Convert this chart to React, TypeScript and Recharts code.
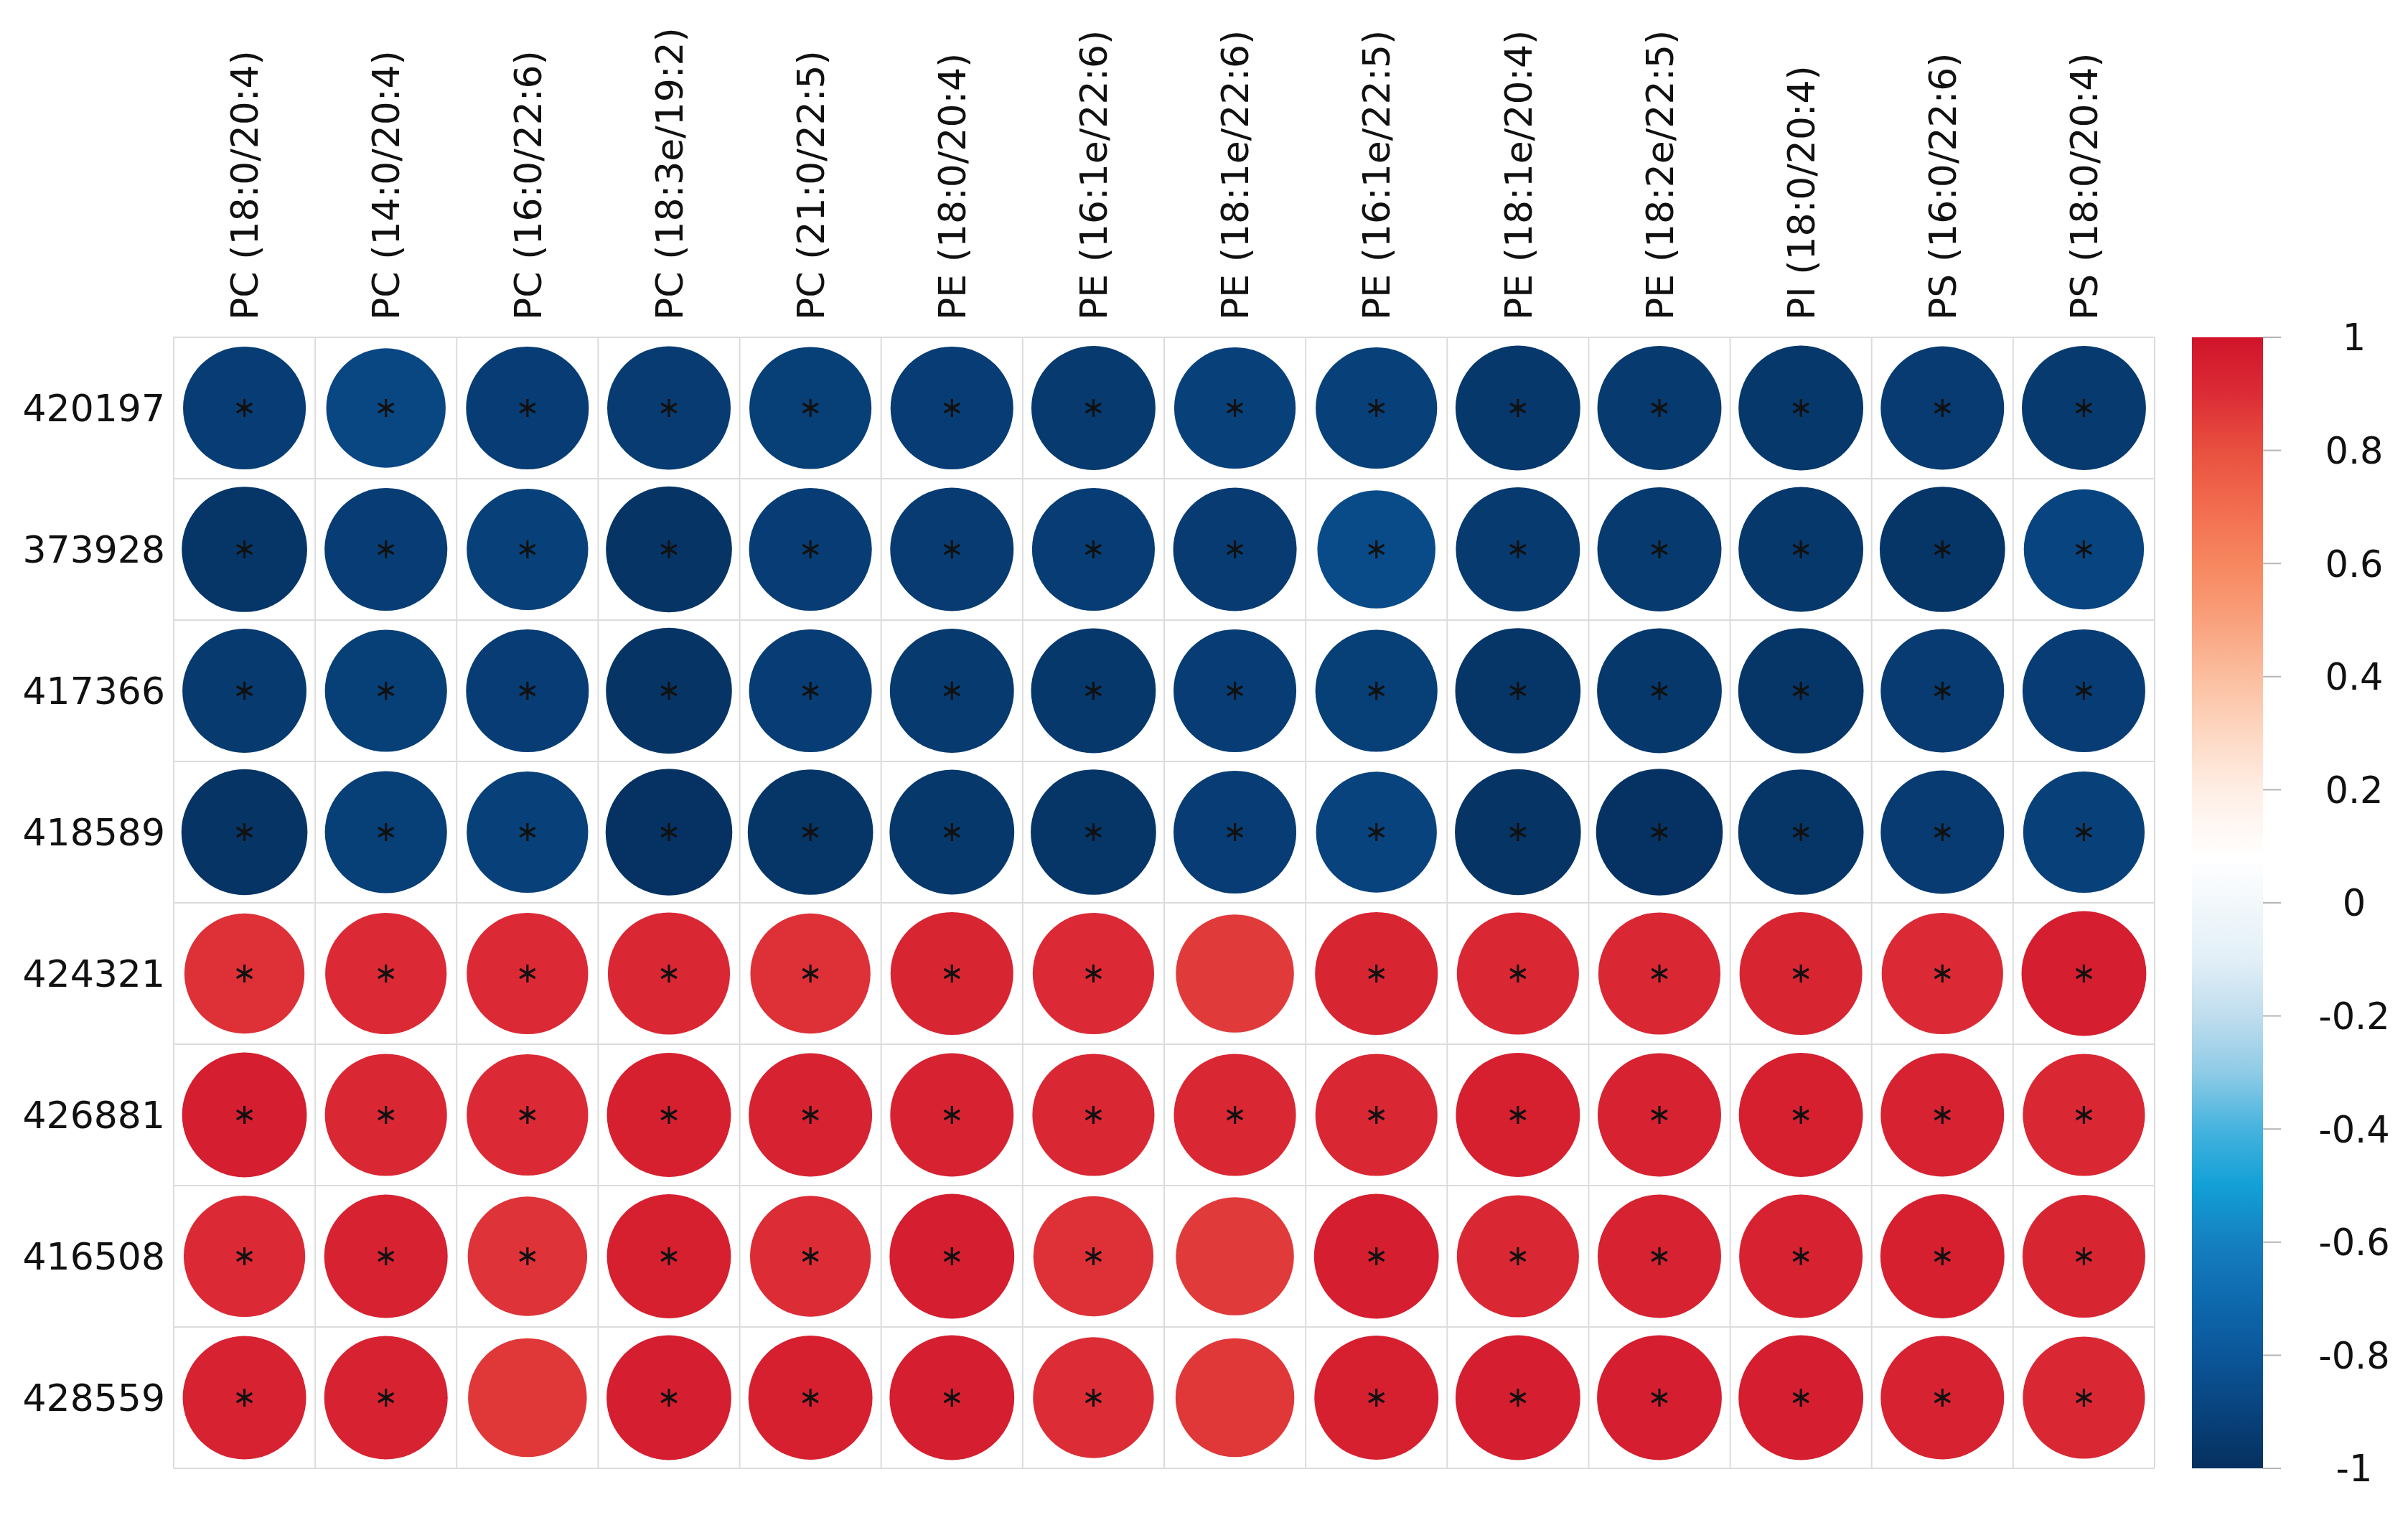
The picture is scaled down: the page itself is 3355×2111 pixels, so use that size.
import React from "react";
import { ScatterChart, Scatter, XAxis, YAxis, ZAxis, ReferenceLine } from "recharts";

if (typeof document !== "undefined") {
  document.body.style.margin = "0";
}

const columns = [
  "PC (18:0/20:4)",
  "PC (14:0/20:4)",
  "PC (16:0/22:6)",
  "PC (18:3e/19:2)",
  "PC (21:0/22:5)",
  "PE (18:0/20:4)",
  "PE (16:1e/22:6)",
  "PE (18:1e/22:6)",
  "PE (16:1e/22:5)",
  "PE (18:1e/20:4)",
  "PE (18:2e/22:5)",
  "PI (18:0/20:4)",
  "PS (16:0/22:6)",
  "PS (18:0/20:4)",
];

const rows = ["420197", "373928", "417366", "418589", "424321", "426881", "416508", "428559"];

const v420197 = [-0.93, -0.88, -0.93, -0.94, -0.92, -0.93, -0.95, -0.91, -0.91, -0.96, -0.95, -0.96, -0.94, -0.95];
const v373928 = [-0.97, -0.93, -0.91, -0.98, -0.93, -0.94, -0.93, -0.94, -0.86, -0.95, -0.95, -0.96, -0.97, -0.89];
const v417366 = [-0.95, -0.92, -0.93, -0.98, -0.93, -0.95, -0.96, -0.93, -0.92, -0.97, -0.96, -0.97, -0.94, -0.93];
const v418589 = [-0.98, -0.92, -0.91, -0.99, -0.97, -0.96, -0.97, -0.93, -0.9, -0.98, -0.99, -0.97, -0.94, -0.91];
const v424321 = [0.89, 0.91, 0.91, 0.92, 0.89, 0.93, 0.91, 0.86, 0.93, 0.92, 0.92, 0.93, 0.91, 0.96];
const v426881 = [0.96, 0.92, 0.91, 0.95, 0.94, 0.94, 0.92, 0.92, 0.92, 0.95, 0.94, 0.95, 0.94, 0.92];
const v416508 = [0.91, 0.94, 0.88, 0.95, 0.9, 0.96, 0.89, 0.86, 0.96, 0.92, 0.94, 0.94, 0.95, 0.93];
const v428559 = [0.94, 0.94, 0.87, 0.96, 0.95, 0.96, 0.9, 0.87, 0.95, 0.96, 0.96, 0.96, 0.94, 0.92];

const values = [v420197, v373928, v417366, v418589, v424321, v426881, v416508, v428559];

const notSignificant: [string, string][] = [
  ["424321", "PE (18:1e/22:6)"],
  ["416508", "PE (18:1e/22:6)"],
  ["428559", "PC (16:0/22:6)"],
  ["428559", "PE (18:1e/22:6)"],
];

const colorbarTicks = [-1, -0.8, -0.6, -0.4, -0.2, 0, 0.2, 0.4, 0.6, 0.8, 1];

const palette: [number, string][] = [
  [-1.0, "#05305f"],
  [-0.9, "#08437d"],
  [-0.8, "#0b5699"],
  [-0.7, "#0e6aae"],
  [-0.6, "#1580c0"],
  [-0.5, "#12a0d6"],
  [-0.4, "#45b3de"],
  [-0.3, "#8fcbe6"],
  [-0.2, "#bfddee"],
  [-0.1, "#e2eff7"],
  [0.08, "#ffffff"],
  [0.2, "#feeee4"],
  [0.3, "#fdd7c2"],
  [0.4, "#fbbe9f"],
  [0.5, "#f9a07c"],
  [0.6, "#f6875f"],
  [0.7, "#f26c4f"],
  [0.8, "#e8503f"],
  [0.9, "#dc2c36"],
  [1.0, "#d0142a"],
];

const FONT = "DejaVu Sans, sans-serif";
const CHART_W = 3355;
const CHART_H = 2111;
const CELL = 197.1;
const MAX_R = 0.45 * CELL;

function hexToRgb(h: string) {
  const n = parseInt(h.slice(1), 16);
  return [(n >> 16) & 255, (n >> 8) & 255, n & 255];
}

function colorFor(v: number) {
  if (v <= palette[0][0]) return palette[0][1];
  for (let i = 1; i < palette.length; i++) {
    const [v1, c1] = palette[i];
    const [v0, c0] = palette[i - 1];
    if (v <= v1) {
      const t = (v - v0) / (v1 - v0);
      const a = hexToRgb(c0);
      const b = hexToRgb(c1);
      const m = a.map((x, k) => Math.round(x + (b[k] - x) * t));
      return `rgb(${m[0]},${m[1]},${m[2]})`;
    }
  }
  return palette[palette.length - 1][1];
}

const nsSet = new Set(notSignificant.map(([r, c]) => `${r}|${c}`));

const data = rows.flatMap((r, ri) =>
  columns.map((c, ci) => ({
    col: ci + 0.5,
    row: ri + 0.5,
    value: values[ri][ci],
    mag: Math.abs(values[ri][ci]),
    sig: !nsSet.has(`${r}|${c}`),
  }))
);

const cbData = colorbarTicks.map((v) => ({ col: 0, cb: v }));

const CellShape = (props: any) => {
  const { cx, cy, width, payload } = props;
  if (cx == null || cy == null) return null;
  const r = width ? width / 2 : Math.sqrt(payload.mag) * MAX_R;
  const fill = colorFor(payload.value);
  const L = 12.5;
  const lines = [90, 30, 150].map((deg) => {
    const a = (deg * Math.PI) / 180;
    const dx = Math.cos(a) * L;
    const dy = Math.sin(a) * L;
    return (
      <line
        key={deg}
        x1={cx - dx}
        y1={cy - dy}
        x2={cx + dx}
        y2={cy + dy}
        stroke="#111"
        strokeWidth={3.2}
      />
    );
  });
  return (
    <g>
      <circle cx={cx} cy={cy} r={r} fill={fill} />
      {payload.sig ? lines : null}
    </g>
  );
};

const NoShape = () => <g />;

const ColTick = (props: any) => {
  const { x, y, payload } = props;
  const name = columns[Math.floor(payload.value)];
  return (
    <text
      x={x}
      y={y}
      transform={`rotate(-90, ${x}, ${y})`}
      textAnchor="start"
      dy="0.36em"
      fontFamily={FONT}
      fontSize={52}
      fill="#111"
    >
      {name}
    </text>
  );
};

const RowTick = (props: any) => {
  const { x, y, payload } = props;
  const name = rows[Math.floor(payload.value)];
  return (
    <text x={x} y={y} textAnchor="end" dy="0.36em" fontFamily={FONT} fontSize={52} fill="#111">
      {name}
    </text>
  );
};

const CbTick = (props: any) => {
  const { x, y, payload } = props;
  const v = payload.value;
  const label = Math.abs(v) < 1e-9 ? "0" : String(Math.round(v * 10) / 10);
  return (
    <g>
      <line x1={x + 151} y1={y} x2={x + 176} y2={y} stroke="#b5b5b5" strokeWidth={2} />
      <text x={x + 278} y={y} textAnchor="middle" dy="0.36em" fontFamily={FONT} fontSize={51} fill="#111">
        {label}
      </text>
    </g>
  );
};

const ColorBar = (props: any) => {
  const vb = props.viewBox || {};
  const { x, y, height } = vb;
  if (x == null) return null;
  return (
    <g>
      <defs>
        <linearGradient id="cbgrad" x1="0" y1="1" x2="0" y2="0">
          {palette.map(([v, c]) => (
            <stop key={v} offset={(v + 1) / 2} stopColor={c} />
          ))}
        </linearGradient>
      </defs>
      <rect x={x + 52} y={y} width={99} height={height} fill="url(#cbgrad)" />
    </g>
  );
};

const gridX = Array.from({ length: columns.length + 1 }, (_, i) => i);
const gridY = Array.from({ length: rows.length + 1 }, (_, i) => i);

export default function App() {
  return (
    <div style={{ width: CHART_W, height: CHART_H, background: "#fff" }}>
      <ScatterChart width={CHART_W} height={CHART_H} margin={{ top: 0, right: 0, bottom: 65, left: 0 }}>
        <XAxis
          xAxisId="x"
          type="number"
          dataKey="col"
          domain={[0, columns.length]}
          allowDataOverflow
          ticks={columns.map((_, i) => i + 0.5)}
          orientation="top"
          height={470}
          tickSize={0}
          tickMargin={24}
          tickLine={false}
          axisLine={false}
          interval={0}
          tick={<ColTick />}
        />
        <YAxis
          yAxisId="y"
          type="number"
          dataKey="row"
          domain={[0, rows.length]}
          allowDataOverflow
          reversed
          ticks={rows.map((_, i) => i + 0.5)}
          width={242}
          tickSize={0}
          tickMargin={12}
          tickLine={false}
          axisLine={false}
          interval={0}
          tick={<RowTick />}
        />
        <YAxis
          yAxisId="cb"
          type="number"
          dataKey="cb"
          orientation="right"
          domain={[-1, 1]}
          allowDataOverflow
          ticks={colorbarTicks}
          width={353}
          tickSize={0}
          tickMargin={0}
          tickLine={false}
          axisLine={false}
          interval={0}
          tick={<CbTick />}
          label={{ content: (p: any) => <ColorBar {...p} /> }}
        />
        <ZAxis zAxisId="z" type="number" dataKey="mag" domain={[0, 1]} range={[0, Math.PI * MAX_R * MAX_R]} />
        {gridX.map((i) => (
          <ReferenceLine key={`gx${i}`} xAxisId="x" yAxisId="y" x={i} stroke="#dcdcdc" strokeWidth={2} />
        ))}
        {gridY.map((i) => (
          <ReferenceLine key={`gy${i}`} xAxisId="x" yAxisId="y" y={i} stroke="#dcdcdc" strokeWidth={2} />
        ))}
        <Scatter
          data={data}
          xAxisId="x"
          yAxisId="y"
          zAxisId="z"
          shape={<CellShape />}
          isAnimationActive={false}
        />
        <Scatter
          data={cbData}
          dataKey="cb"
          xAxisId="x"
          yAxisId="cb"
          shape={<NoShape />}
          isAnimationActive={false}
        />
      </ScatterChart>
    </div>
  );
}
